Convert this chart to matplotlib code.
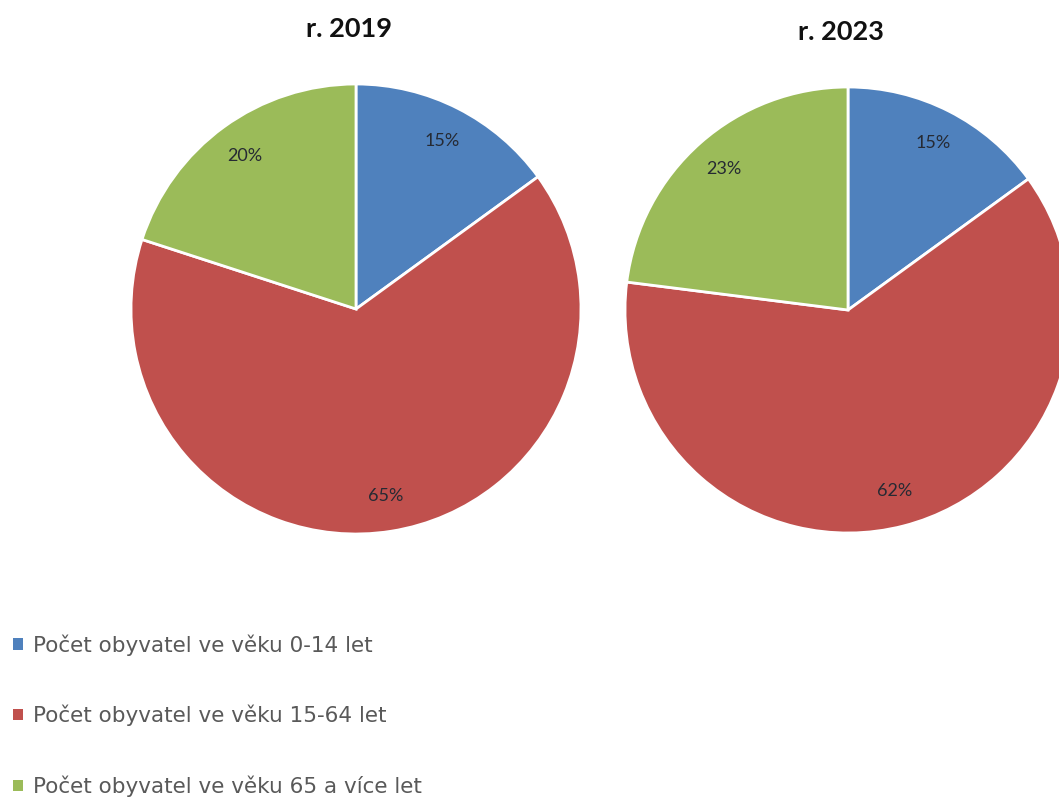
import matplotlib
matplotlib.use("Agg")
import matplotlib.pyplot as plt
from matplotlib.patches import Patch

# data
years = ["r. 2019", "r. 2023"]
categories = ["Počet obyvatel ve věku 0-14 let",
              "Počet obyvatel ve věku 15-64 let",
              "Počet obyvatel ve věku 65 a více let"]
shares_2019 = [15, 65, 20]
shares_2023 = [15, 62, 23]
colors = ["#4F81BD", "#C0504D", "#9BBB59"]

plt.rcParams['font.family'] = ['DejaVu Sans']

fig = plt.figure(figsize=(10.59, 8.05), dpi=100)
W, H = 1059, 805

# pie positions in pixels: centre x, centre y (from top), radius, title x, title y
pies = [(356, 309, 225, 349, 29), (848, 310, 223, 841, 32)]

for (cx, cy, r, tx, ty), shares, year in zip(pies, [shares_2019, shares_2023], years):
    ax = fig.add_axes([(cx - r) / W, (H - cy - r) / H, 2 * r / W, 2 * r / H])
    wedges, texts, autotexts = ax.pie(
        shares, colors=colors, startangle=90, counterclock=False,
        autopct='%d%%', pctdistance=0.84,
        wedgeprops=dict(edgecolor='white', linewidth=2),
        textprops=dict(fontsize=13, color='#262a33', family=['Lato', 'DejaVu Sans']))
    ax.set_xlim(-1, 1)
    ax.set_ylim(-1, 1)
    ax.set_aspect('equal')
    for w in wedges:
        w.set_clip_on(False)
    fig.text(tx / W, 1 - ty / H, year, ha='center', va='center',
             fontsize=19.5, fontweight='bold', color='#111111',
             family=['Lato', 'DejaVu Sans'])

handles = [Patch(facecolor=c, edgecolor='none') for c in colors]
fig.legend(handles, categories, loc='upper left', bbox_to_anchor=(13 / W, 1 - 634 / H),
           frameon=False, fontsize=15.5, labelcolor='#595959',
           handlelength=0.46, handleheight=0.46, handletextpad=0.46,
           labelspacing=2.29, borderaxespad=0, borderpad=0)

fig.savefig("out.png", dpi=100)
